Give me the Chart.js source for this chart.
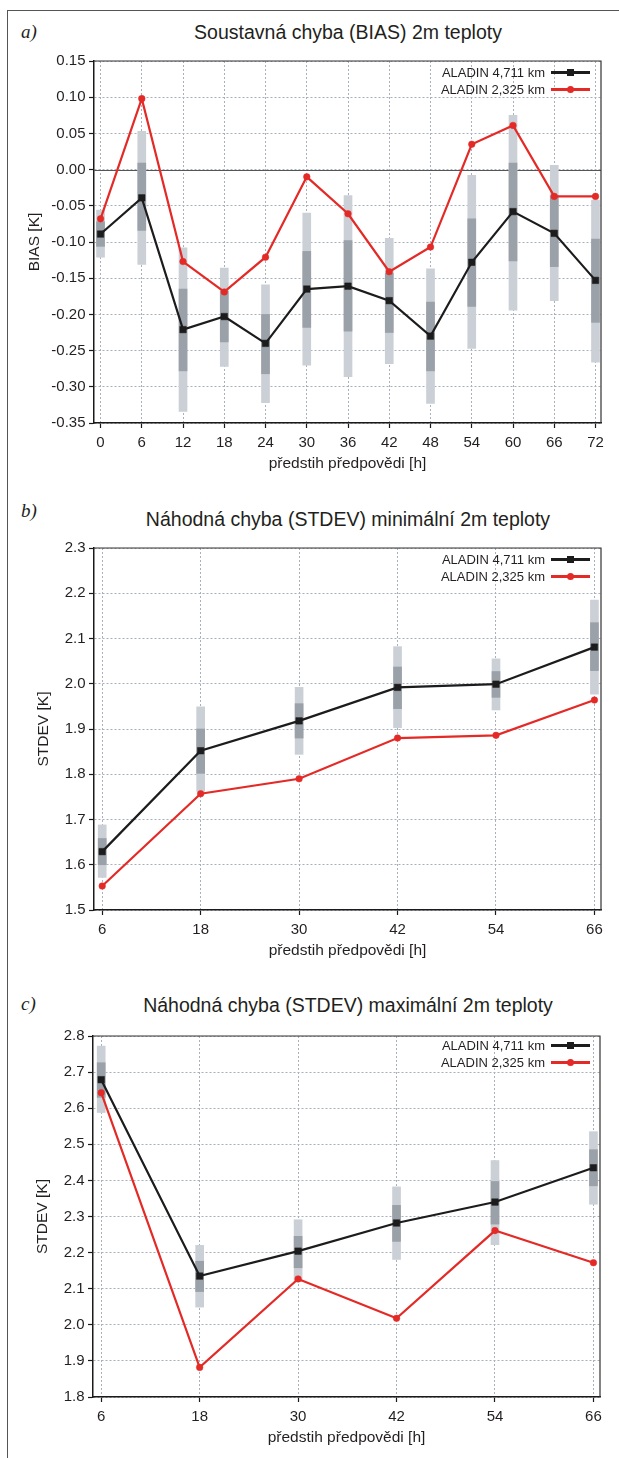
<!DOCTYPE html>
<html lang="cs">
<head>
<meta charset="utf-8">
<title>ALADIN 4,711 km / 2,325 km – chyby 2m teploty</title>
<script src="https://cdn.jsdelivr.net/npm/chart.js@4.4.1/dist/chart.umd.min.js"></script>
<style>
  html, body { margin: 0; padding: 0; background: #fff; }
  body { position: relative; width: 619px; height: 1458px; overflow: hidden;
         font-family: 'Liberation Sans', Arial, sans-serif; color: #231f20; }
  .frame { position: absolute; left: 7px; top: 10px; width: 700px; height: 1500px;
           border-left: 1px solid #555; border-top: 1px solid #555; }
  .panel { position: absolute; left: 0; width: 619px; }
  .tag   { position: absolute; left: 21px; font-family: 'Liberation Serif', serif;
           font-style: italic; font-size: 19px; line-height: 22px; }
  .title { position: absolute; left: 0; width: 696px; text-align: center; white-space: nowrap;
           font-size: 19.5px; line-height: 22px; }
  .legend { position: absolute; right: 29px; font-size: 13px; }
  .legend .row { display: flex; align-items: center; justify-content: flex-end; height: 17px; }
  .legend .sample { position: relative; width: 39px; height: 10px; margin-left: 6px; }
  .legend .sample::before { content: ''; position: absolute; left: 0; right: 0; top: 3.6px;
                            height: 2.8px; background: var(--c); }
  .legend .sample i { position: absolute; left: 16px; top: 1.5px; width: 7px; height: 7px; background: var(--c); }
  .legend .sample i.dot { border-radius: 50%; }
</style>
</head>
<body>
<div class="frame"></div>

<div class="tag" style="top:21px">a)</div>
<div class="title" style="top:21px">Soustavná chyba (BIAS) 2m teploty</div>
<div class="panel" style="top:0;height:480px"><canvas id="chart-bias"></canvas></div>
<div class="legend" id="legend-bias" style="top:64px"></div>

<div class="tag" style="top:500px">b)</div>
<div class="title" style="top:508px">Náhodná chyba (STDEV) minimální 2m teploty</div>
<div class="panel" style="top:480px;height:487px"><canvas id="chart-tmin"></canvas></div>
<div class="legend" id="legend-tmin" style="top:551px"></div>

<div class="tag" style="top:993px">c)</div>
<div class="title" style="top:994px">Náhodná chyba (STDEV) maximální 2m teploty</div>
<div class="panel" style="top:970px;height:484px"><canvas id="chart-tmax"></canvas></div>
<div class="legend" id="legend-tmax" style="top:1037px"></div>

<script>
'use strict';
// ── Data ──────────────────────────────────────────────────────────────────
const SERIES = ['ALADIN 4,711 km', 'ALADIN 2,325 km'];
const X_TITLE = 'předstih předpovědi [h]';

// a) BIAS 2m temperature, every 6 h
const BIAS_HOURS = [0, 6, 12, 18, 24, 30, 36, 42, 48, 54, 60, 66, 72];
const BIAS_TICKS = [-0.35, -0.30, -0.25, -0.20, -0.15, -0.10, -0.05, 0.00, 0.05, 0.10, 0.15];
const BIAS_4711  = [-0.089, -0.039, -0.221, -0.203, -0.240, -0.165, -0.161, -0.181, -0.230, -0.128, -0.058, -0.088, -0.153];
const BIAS_2325  = [-0.068, 0.098, -0.127, -0.169, -0.121, -0.010, -0.061, -0.141, -0.107, 0.035, 0.061, -0.037, -0.037];
const BIAS_MAX   = [-0.056, 0.053, -0.108, -0.136, -0.159, -0.060, -0.036, -0.095, -0.137, -0.008, 0.075, 0.006, -0.042];
const BIAS_MIN   = [-0.121, -0.131, -0.334, -0.272, -0.322, -0.270, -0.286, -0.268, -0.323, -0.247, -0.194, -0.181, -0.266];
const BIAS_Q3    = [-0.072, 0.009, -0.165, -0.168, -0.200, -0.113, -0.098, -0.143, -0.183, -0.068, 0.009, -0.036, -0.096];
const BIAS_Q1    = [-0.106, -0.084, -0.278, -0.238, -0.282, -0.218, -0.223, -0.225, -0.278, -0.189, -0.126, -0.134, -0.211];

// b) STDEV of minimum 2m temperature
const TMIN_HOURS = [6, 18, 30, 42, 54, 66];
const TMIN_TICKS = [1.5, 1.6, 1.7, 1.8, 1.9, 2.0, 2.1, 2.2, 2.3];
const TMIN_4711  = [1.629, 1.852, 1.918, 1.992, 1.999, 2.081];
const TMIN_2325  = [1.553, 1.757, 1.790, 1.880, 1.886, 1.964];
const TMIN_MAX   = [1.688, 1.949, 1.992, 2.082, 2.055, 2.185];
const TMIN_MIN   = [1.572, 1.762, 1.844, 1.903, 1.942, 1.977];
const TMIN_Q3    = [1.658, 1.900, 1.956, 2.037, 2.027, 2.135];
const TMIN_Q1    = [1.600, 1.802, 1.880, 1.945, 1.970, 2.029];

// c) STDEV of maximum 2m temperature
const TMAX_HOURS = [6, 18, 30, 42, 54, 66];
const TMAX_TICKS = [1.8, 1.9, 2.0, 2.1, 2.2, 2.3, 2.4, 2.5, 2.6, 2.7, 2.8];
const TMAX_4711  = [2.679, 2.135, 2.204, 2.282, 2.340, 2.435];
const TMAX_2325  = [2.643, 1.882, 2.127, 2.018, 2.261, 2.172];
const TMAX_MAX   = [2.772, 2.220, 2.291, 2.382, 2.455, 2.535];
const TMAX_MIN   = [2.588, 2.049, 2.120, 2.181, 2.222, 2.334];
const TMAX_Q3    = [2.726, 2.176, 2.245, 2.331, 2.397, 2.485];
const TMAX_Q1    = [2.630, 2.092, 2.158, 2.231, 2.279, 2.385];

// ── Style ─────────────────────────────────────────────────────────────────
const BLACK = '#1c1c1c';
const RED   = '#e42a26';
const LIGHT = '#cbcfd6';
const DARK  = '#9aa1a8';
const GRID  = '#a9b0bd';
const AXIS  = '#1a1a1a';
const TEXT  = '#231f20';
const FONT  = "'Liberation Sans', Arial, sans-serif";

Chart.defaults.font.family = FONT;
Chart.defaults.color = TEXT;

const pairs  = (xs, ys) => xs.map((x, i) => ({ x, y: ys[i] }));
const ranges = (xs, lo, hi) => xs.map((x, i) => ({ x, y: [lo[i], hi[i]] }));

// top + right edge of the plot box, optional solid zero line
const plotFrame = {
    id: 'plotFrame',
    beforeDatasetsDraw(chart, _args, opts) {
        const { ctx, chartArea: a, scales } = chart;
        ctx.save();
        if (opts.zeroLine) {
            const py = Math.round(scales.y.getPixelForValue(0)) + 0.5;
            ctx.strokeStyle = '#555';
            ctx.lineWidth = 1.2;
            ctx.beginPath(); ctx.moveTo(a.left, py); ctx.lineTo(a.right, py); ctx.stroke();
        }
        ctx.strokeStyle = '#333';
        ctx.lineWidth = 1.2;
        ctx.beginPath();
        ctx.moveTo(a.left, a.top); ctx.lineTo(a.right, a.top); ctx.lineTo(a.right, a.bottom);
        ctx.stroke();
        ctx.restore();
    }
};

function makePanel(id, cfg) {
    const canvas = document.getElementById(id);
    const W = 619, H = canvas.parentElement.offsetHeight;
    canvas.width = W; canvas.height = H;
    canvas.style.width = W + 'px'; canvas.style.height = H + 'px';

    const g = cfg.plot;          // plot box inside this canvas
    const grid = { color: GRID, lineWidth: 1, offset: false, tickLength: 5,
                   tickColor: AXIS, tickWidth: 1.2, tickBorderDash: [] };
    const border = { color: AXIS, width: 1.5, dash: [2, 2] };
    const bar = { type: 'bar', grouped: false, barThickness: 8, maxBarThickness: 8, borderWidth: 0 };
    const line = { type: 'line', borderWidth: 2.2, tension: 0, pointBorderWidth: 0.5 };

    return new Chart(canvas, {
        data: { datasets: [
            { ...bar, label: 'min–max', data: ranges(cfg.hours, cfg.min, cfg.max), backgroundColor: LIGHT, order: 4 },
            { ...bar, label: 'Q1–Q3',   data: ranges(cfg.hours, cfg.q1, cfg.q3),   backgroundColor: DARK,  order: 3 },
            { ...line, label: SERIES[0], data: pairs(cfg.hours, cfg.a), borderColor: BLACK,
              backgroundColor: BLACK, pointStyle: 'rect', pointRadius: 4.6, order: 2 },
            { ...line, label: SERIES[1], data: pairs(cfg.hours, cfg.b), borderColor: RED,
              backgroundColor: RED, pointStyle: 'circle', pointRadius: 3.3, order: 1 },
        ]},
        options: {
            responsive: false, animation: false, events: [],
            layout: { padding: { top: g.top, right: W - g.right, left: 0, bottom: 0 } },
            plugins: { legend: { display: false }, tooltip: { enabled: false },
                       plotFrame: { zeroLine: !!cfg.zeroLine } },
            scales: {
                x: {
                    type: 'linear', min: cfg.xMin, max: cfg.xMax, offset: false,
                    afterBuildTicks: s => { s.ticks = cfg.hours.map(v => ({ value: v })); },
                    afterFit: s => { s.height = H - g.bottom; },
                    ticks: { font: { size: 15 }, color: TEXT, padding: 6, maxRotation: 0, autoSkip: false,
                             callback: v => String(v) },
                    grid, border,
                    title: { display: true, text: X_TITLE, font: { size: 15.5 }, color: TEXT,
                             padding: { top: 0, bottom: 7 } }
                },
                y: {
                    min: cfg.ticks[0], max: cfg.ticks[cfg.ticks.length - 1],
                    afterBuildTicks: s => { s.ticks = cfg.ticks.map(v => ({ value: v })); },
                    afterFit: s => { s.width = g.left; },
                    ticks: { font: { size: 15 }, color: TEXT, padding: 3.5,
                             callback: v => v.toFixed(cfg.decimals) },
                    grid, border,
                    title: { display: true, text: cfg.yTitle, font: { size: 15.5 }, color: TEXT,
                             padding: { top: cfg.yTitlePad, bottom: 0 } }
                }
            }
        },
        plugins: [plotFrame]
    });
}

function makeLegend(id) {
    const el = document.getElementById(id);
    SERIES.forEach((label, i) => {
        const row = document.createElement('div');
        row.className = 'row';
        const text = document.createElement('span');
        text.textContent = label;
        const sample = document.createElement('span');
        sample.className = 'sample';
        sample.style.setProperty('--c', i === 0 ? BLACK : RED);
        const mark = document.createElement('i');
        if (i === 1) mark.className = 'dot';
        sample.appendChild(mark);
        row.append(text, sample);
        el.appendChild(row);
    });
}

// ── a) BIAS ───────────────────────────────────────────────────────────────
makePanel('chart-bias', {
    plot: { left: 94, right: 601, top: 61, bottom: 423 },
    hours: BIAS_HOURS, ticks: BIAS_TICKS, decimals: 2, xMin: -0.95, xMax: 72.8,
    a: BIAS_4711, b: BIAS_2325, min: BIAS_MIN, max: BIAS_MAX, q1: BIAS_Q1, q3: BIAS_Q3,
    yTitle: 'BIAS [K]', yTitlePad: 25, zeroLine: true
});
makeLegend('legend-bias');

// ── b) STDEV Tmin ─────────────────────────────────────────────────────────
makePanel('chart-tmin', {
    plot: { left: 94, right: 601, top: 68, bottom: 430 },
    hours: TMIN_HOURS, ticks: TMIN_TICKS, decimals: 1, xMin: 5.0, xMax: 66.8,
    a: TMIN_4711, b: TMIN_2325, min: TMIN_MIN, max: TMIN_MAX, q1: TMIN_Q1, q3: TMIN_Q3,
    yTitle: 'STDEV [K]', yTitlePad: 34
});
makeLegend('legend-tmin');

// ── c) STDEV Tmax ─────────────────────────────────────────────────────────
makePanel('chart-tmax', {
    plot: { left: 93, right: 600, top: 66, bottom: 427 },
    hours: TMAX_HOURS, ticks: TMAX_TICKS, decimals: 1, xMin: 5.0, xMax: 66.8,
    a: TMAX_4711, b: TMAX_2325, min: TMAX_MIN, max: TMAX_MAX, q1: TMAX_Q1, q3: TMAX_Q3,
    yTitle: 'STDEV [K]', yTitlePad: 33
});
makeLegend('legend-tmax');
</script>
</body>
</html>
